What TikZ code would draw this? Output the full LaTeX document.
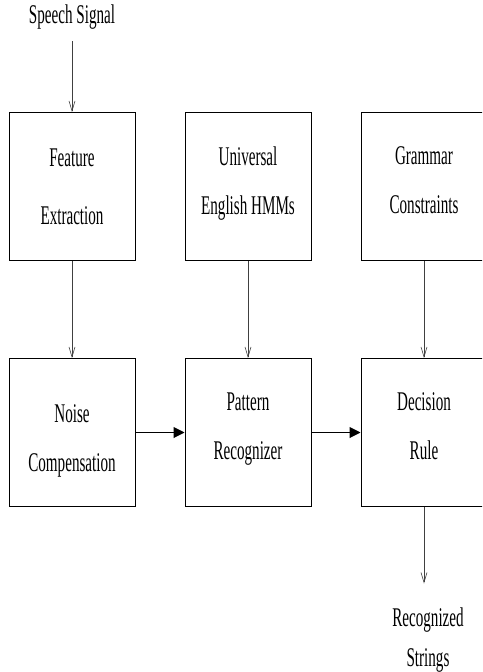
\documentclass[tikz,border=0pt]{standalone}
\usepackage{fontspec}
\setmainfont{Liberation Serif}[FakeStretch=0.56]
\usepackage{tikz}
\usetikzlibrary{arrows.meta}

\begin{document}
\begin{tikzpicture}[
            x=1pt, y=-1pt,
            every node/.style={font=\fontsize{27}{49}\selectfont, inner sep=0pt}, % text of every node
            block/.style={draw, line width=1pt, minimum width=126pt, minimum height=148pt, align=center}, % the boxes
            feed/.style={-{Straight Barb[length=10pt,width=6pt]}, line width=0.6pt, draw=black!75}, % thin arrows
            flow/.style={-{Triangle[length=11pt,width=11pt]}, line width=1pt} % thick arrows
            ]
        \useasboundingbox (0,0) rectangle (482,672);
        \clip (0,0) rectangle (482,672);

                % input and output texts
                \node (speech) at (72,17) {Speech Signal};
                \node[align=center, font=\fontsize{27}{40}\selectfont] (strings) at (428,640) {Recognized\\Strings};

                % first row of boxes
                \node[block] (feature) at (72,186.5) {Feature\\[9pt]Extraction};
                \node[block] (hmm) at (248,186.5) {Universal\\English HMMs\\[-37pt]};
                \node[block] (grammar) at (424,186.5) {Grammar\\Constraints\\[-37pt]};

                % second row of boxes
                \node[block] (noise) at (72,432.5) {\\[-14pt]Noise\\Compensation};
                \node[block] (pattern) at (248,432.5) {Pattern\\Recognizer\\[-37pt]};
                \node[block] (decision) at (424,432.5) {Decision\\Rule\\[-37pt]};

                % connectors
                \draw[feed, shorten <=12pt] (speech) -- (feature);
                \draw[feed] (feature) -- (noise);
                \draw[feed] (hmm) -- (pattern);
                \draw[feed] (grammar) -- (decision);
                \draw[flow] (noise) -- (pattern);
                \draw[flow] (pattern) -- (decision);
                \draw[feed, shorten >=24pt] (decision.south) -- (decision.south |- strings.north);

            \end{tikzpicture}
\end{document}
